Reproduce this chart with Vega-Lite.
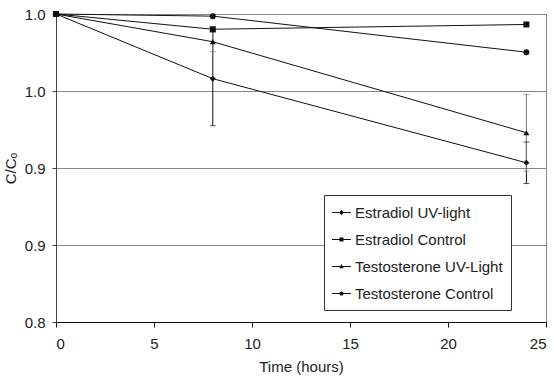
{
  "$schema": "https://vega.github.io/schema/vega-lite/v6.json",
  "width": 490,
  "height": 308,
  "autosize": "none",
  "padding": {"left": 56, "top": 14, "right": 8, "bottom": 58},
  "background": "white",
  "config": {
    "view": {"stroke": "#888888", "strokeWidth": 1},
    "font": "Liberation Sans",
    "axis": {"labelFont": "Liberation Sans", "titleFont": "Liberation Sans", "labelFontSize": 15, "titleFontSize": 15, "labelColor": "#222", "titleColor": "#222", "titleFontWeight": "normal"}
  },
  "data": {
    "values": [
      {"series": "Estradiol UV-light", "time": 0, "value": 1.0},
      {"series": "Estradiol UV-light", "time": 8, "value": 0.958, "lo": 0.9275, "hi": 0.9885},
      {"series": "Estradiol UV-light", "time": 24, "value": 0.9034, "lo": 0.8899, "hi": 0.9169},
      {"series": "Estradiol Control", "time": 0, "value": 1.0},
      {"series": "Estradiol Control", "time": 8, "value": 0.9901},
      {"series": "Estradiol Control", "time": 24, "value": 0.9932},
      {"series": "Testosterone UV-Light", "time": 0, "value": 1.0},
      {"series": "Testosterone UV-Light", "time": 8, "value": 0.982, "lo": 0.9755, "hi": 0.9885},
      {"series": "Testosterone UV-Light", "time": 24, "value": 0.9229, "lo": 0.898, "hi": 0.9478},
      {"series": "Testosterone Control", "time": 0, "value": 1.0},
      {"series": "Testosterone Control", "time": 8, "value": 0.9986},
      {"series": "Testosterone Control", "time": 24, "value": 0.9752}
    ]
  },
  "encoding": {
    "x": {"field": "time", "type": "quantitative", "scale": {"domain": [0, 25], "nice": false},
      "axis": {"title": "Time (hours)", "values": [0, 5, 10, 15, 20, 25], "grid": false, "domainColor": "#111", "tickColor": "#111", "tickSize": 5, "labelPadding": 9, "titleY": 49.5, "titleBaseline": "alphabetic"}},
    "y": {"field": "value", "type": "quantitative", "scale": {"domain": [0.8, 1.0], "nice": false, "zero": false},
      "axis": {"title": "C/Cₒ", "values": [0.8, 0.85, 0.9, 0.95, 1.0], "labelExpr": "format(datum.value + 0.001, '.1f')", "grid": true, "gridColor": "#888888", "gridWidth": 1, "domainColor": "#444", "tickColor": "#444", "tickSize": 4, "labelPadding": 7, "titleX": -41, "titleY": 154, "titleAngle": -90, "titleBaseline": "alphabetic", "titleAlign": "center"}}
  },
  "layer": [
    {
      "transform": [{"filter": "isValid(datum.lo)"}],
      "mark": {"type": "rule", "strokeWidth": 1},
      "encoding": {
        "y": {"field": "lo", "type": "quantitative"},
        "y2": {"field": "hi"},
        "color": {"field": "series", "type": "nominal", "scale": {"domain": ["Estradiol UV-light", "Testosterone UV-Light"], "range": ["#111111", "#777777"]}, "legend": null}
      }
    },
    {
      "transform": [{"filter": "isValid(datum.lo)"}],
      "mark": {"type": "tick", "orient": "horizontal", "size": 6, "thickness": 1},
      "encoding": {
        "y": {"field": "lo", "type": "quantitative"},
        "color": {"field": "series", "type": "nominal", "legend": null}
      }
    },
    {
      "transform": [{"filter": "isValid(datum.hi)"}],
      "mark": {"type": "tick", "orient": "horizontal", "size": 6, "thickness": 1},
      "encoding": {
        "y": {"field": "hi", "type": "quantitative"},
        "color": {"field": "series", "type": "nominal", "legend": null}
      }
    },
    {
      "mark": {"type": "line", "color": "#111", "strokeWidth": 1},
      "encoding": {"detail": {"field": "series", "type": "nominal"}}
    },
    {
      "mark": {"type": "point", "filled": true, "color": "#111", "opacity": 1, "size": 36},
      "encoding": {
        "shape": {"field": "series", "type": "nominal",
          "scale": {"domain": ["Estradiol UV-light", "Estradiol Control", "Testosterone UV-Light", "Testosterone Control"], "range": ["diamond", "square", "triangle-up", "circle"]},
          "legend": null}
      }
    },
    {
      "transform": [{"filter": "datum.time < 0"}],
      "mark": {"type": "point", "filled": true, "color": "#111"},
      "encoding": {
        "shape": {"field": "series", "type": "nominal",
          "scale": {"domain": ["Estradiol UV-light", "Estradiol Control", "Testosterone UV-Light", "Testosterone Control"],
            "range": [
              "M-1,-0.05H1V0.05H-1ZM0,-0.28L0.24,0L0,0.28L-0.24,0Z",
              "M-1,-0.05H1V0.05H-1ZM-0.21,-0.21H0.21V0.21H-0.21Z",
              "M-1,-0.05H1V0.05H-1ZM0,-0.26L0.24,0.18L-0.24,0.18Z",
              "M-1,-0.05H1V0.05H-1ZM0.22,0A0.22,0.22,0,1,1,-0.22,0A0.22,0.22,0,1,1,0.22,0Z"
            ]},
          "legend": {"title": null, "orient": "none", "legendX": 268, "legendY": 181, "padding": 8, "strokeColor": "#333", "fillColor": "white",
            "symbolSize": 361, "symbolFillColor": "#111", "symbolStrokeColor": "#111", "symbolStrokeWidth": 0, "symbolOpacity": 1,
            "labelFont": "Liberation Sans", "labelFontSize": 15, "labelColor": "#222", "labelOffset": 4, "rowPadding": 9, "labelLimit": 300}}
      }
    }
  ],
  "resolve": {"scale": {"shape": "independent"}, "legend": {"shape": "independent"}}
}
